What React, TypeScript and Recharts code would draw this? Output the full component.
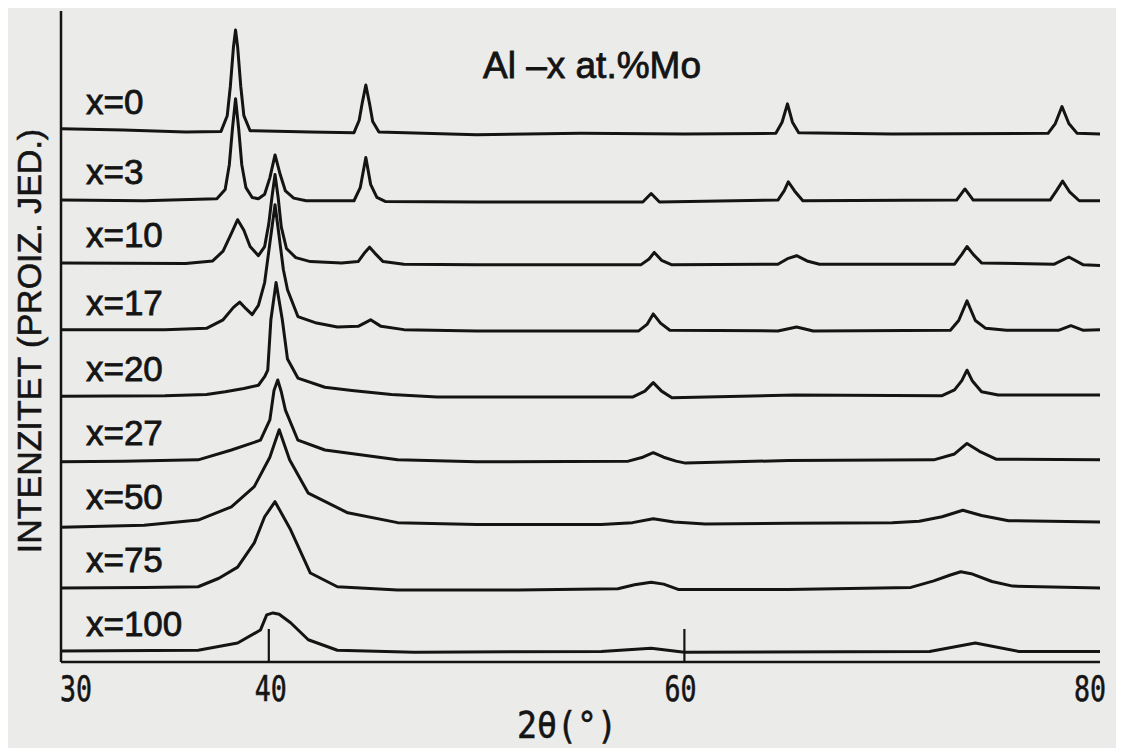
import React from 'react';
import {
  LineChart,
  Line,
  XAxis,
  YAxis,
  ReferenceDot,
} from 'recharts';

// Al - x at.% Mo, X-ray diffractograms, stacked
const COMPOSITIONS = [0, 3, 10, 17, 20, 27, 50, 75, 100];
const OFFSETS = [81.2, 70.5, 60.9, 50.6, 40.5, 30.7, 20.9, 11.2, 1.5];
const X_TICKS = [30, 40, 60, 80];

// [2theta, intensity above the trace baseline]
const S_X0: [number, number][] = [
  [30, 0.3], [33, 0.1], [36, -0.2], [37.7, -0.1], [38.0, 2.3], [38.15, 6.8], [38.3, 12.8],
  [38.4, 15.4], [38.5, 12.8], [38.65, 6.8], [38.8, 2.3], [39.1, 0], [42, -0.2], [44.1, -0.3],
  [44.35, 1.6], [44.5, 4.3], [44.67, 7.0], [44.85, 4.1], [45.0, 1.4], [45.3, -0.2], [50, -0.6],
  [55, -0.4], [60, -0.5], [64.4, -0.4], [64.7, 1.3], [64.96, 4.1], [65.2, 1.3], [65.5, -0.3],
  [70, -0.5], [77.5, -0.4], [77.85, 1.1], [78.17, 3.7], [78.5, 1.1], [78.9, -0.4], [80, -0.5],
];
const S_X3: [number, number][] = [
  [30, 0.1], [34, 0], [37.5, 0.3], [37.9, 1.7], [38.1, 5.5], [38.25, 11.0], [38.4, 15.6],
  [38.55, 11.0], [38.7, 5.5], [38.9, 2.0], [39.2, 0.5], [39.5, 0.3], [39.8, 1.0], [40.05, 3.5],
  [40.3, 7.0], [40.55, 4.0], [40.8, 1.5], [41.2, 0.4], [41.8, 0], [44.1, 0], [44.4, 2.0],
  [44.67, 6.6], [44.9, 2.5], [45.2, 0.5], [45.6, -0.1], [50, -0.2], [58.0, -0.2], [58.4, 1.1],
  [58.8, -0.2], [64.5, 0.1], [64.8, 1.5], [65.0, 2.9], [65.3, 1.5], [65.7, 0], [73.1, 0.1],
  [73.5, 1.8], [73.9, 0.1], [77.6, 0.1], [77.9, 1.5], [78.2, 3.0], [78.55, 1.3], [79.0, 0], [80, 0],
];
const S_X10: [number, number][] = [
  [30, 0.1], [36, 0], [37.3, 0.4], [37.8, 1.9], [38.2, 4.6], [38.5, 6.7], [38.8, 5.1], [39.1, 2.6],
  [39.5, 1.2], [39.8, 2.6], [40.0, 6.1], [40.15, 10.1], [40.3, 13.6], [40.45, 10.1], [40.6, 5.6],
  [40.85, 2.3], [41.3, 0.9], [42, 0.3], [43.5, 0.1], [44.3, 0.3], [44.6, 1.6], [44.85, 2.5],
  [45.1, 1.6], [45.5, 0.3], [46.5, -0.1], [50, -0.2], [57.9, -0.2], [58.3, 0.7], [58.55, 1.7],
  [58.9, 0.5], [59.4, -0.2], [64.5, -0.1], [65.0, 0.8], [65.4, 1.2], [65.9, 0.4], [66.5, -0.1],
  [73.0, -0.1], [73.35, 1.4], [73.6, 2.6], [73.9, 1.4], [74.3, 0.1], [77.8, -0.1], [78.5, 1.0],
  [79.2, -0.2], [80, -0.3],
];
const S_X17: [number, number][] = [
  [30, 0.2], [35, 0.2], [37.0, 0.4], [37.8, 1.7], [38.3, 3.6], [38.6, 4.4], [38.9, 3.4],
  [39.2, 2.5], [39.5, 3.9], [39.8, 7.4], [40.05, 13.4], [40.3, 19.3], [40.5, 14.4], [40.7, 9.4],
  [40.9, 6.3], [41.4, 2.2], [42.3, 1.2], [43.3, 0.6], [44.3, 0.7], [44.9, 1.7], [45.4, 0.7],
  [46.5, 0.2], [50, 0], [57.8, 0], [58.2, 1.0], [58.5, 2.6], [58.85, 1.2], [59.3, 0.1], [64.5, 0],
  [65.4, 0.6], [66.2, 0], [72.8, 0.1], [73.2, 1.6], [73.6, 4.6], [74.0, 1.6], [74.5, 0.4],
  [75.5, 0.1], [78.0, 0.1], [78.6, 0.8], [79.2, 0.1], [80, 0.2],
];
const S_X20: [number, number][] = [
  [30, 0.1], [35, 0.2], [37.0, 0.4], [37.9, 0.8], [38.8, 1.3], [39.5, 1.8], [39.8, 3.1],
  [39.95, 4.1], [40.1, 11.8], [40.35, 17.5], [40.65, 11.8], [40.9, 5.8], [41.4, 2.9], [42.7, 1.5],
  [44, 1.0], [45.9, 0.4], [48.1, 0], [55, 0], [57.5, 0], [58.1, 0.9], [58.5, 2.2], [58.9, 0.9],
  [59.4, -0.1], [65.3, 0.3], [72.4, 0.2], [73.0, 1.1], [73.35, 2.5], [73.6, 4.1], [73.85, 2.5],
  [74.3, 0.8], [75.1, 0.3], [80, 0.3],
];
const S_X27: [number, number][] = [
  [30, -0.1], [33, 0], [36.6, 0.2], [38.2, 1.7], [39.6, 3.2], [40.05, 6.3], [40.25, 10.8],
  [40.43, 12.4], [40.6, 10.6], [40.8, 7.8], [41.4, 3.2], [42.7, 1.7], [46.2, 0.2], [50, -0.1],
  [57.3, 0], [58.0, 0.6], [58.5, 1.3], [59.0, 0.6], [59.6, 0], [60.05, -0.3], [65, 0.1], [72, 0.2],
  [73.0, 1.1], [73.6, 2.7], [74.2, 1.5], [75.0, 0.3], [80, 0.2],
];
const S_X50: [number, number][] = [
  [30, -0.3], [34, 0], [36.6, 0.8], [38.2, 2.8], [39.3, 5.9], [40.05, 10.4], [40.5, 14.6],
  [41.0, 10.0], [41.9, 4.9], [43.8, 1.9], [46.2, 0.4], [50, 0.1], [56, 0.1], [57.5, 0.4],
  [58.5, 1.0], [59.5, 0.5], [61, 0.2], [65, 0.3], [70, 0.4], [71.3, 0.6], [72.4, 1.3],
  [73.4, 2.3], [74.3, 1.5], [75.6, 0.7], [80, 0.5],
];
const S_X75: [number, number][] = [
  [30, 0.1], [34, 0.2], [36.6, 0.3], [37.6, 1.6], [38.5, 3.3], [39.3, 7.0], [39.8, 11.0],
  [40.3, 13.3], [41.05, 9.0], [42.0, 2.4], [43.3, 0.3], [46.2, -0.2], [52, -0.2], [56.8, 0],
  [57.6, 0.6], [58.4, 1.0], [59.0, 0.7], [59.7, -0.1], [65, -0.1], [70.9, 0.2], [72.0, 1.2],
  [72.8, 2.1], [73.3, 2.6], [73.8, 2.3], [74.8, 1.1], [75.8, 0.4], [80, 0.1],
];
const S_X100: [number, number][] = [
  [30, 0.2], [36.6, 0.3], [38.5, 1.4], [39.6, 3.4], [39.9, 5.7], [40.2, 6.0], [40.5, 5.8],
  [41.05, 4.5], [41.9, 1.9], [43.3, 0.3], [47, 0], [56, 0.1], [58.4, 0.6], [60, 0], [71.8, 0.1],
  [74.0, 1.4], [76.1, 0.1], [80, 0.1],
];

const SERIES = [S_X0, S_X3, S_X10, S_X17, S_X20, S_X27, S_X50, S_X75, S_X100];

const traces = SERIES.map((pts, i) =>
  pts.map(([t, h]) => ({ t, v: +(OFFSETS[i] + h).toFixed(2) }))
);

const INK = '#141414';
const PAPER = '#ebebe9';
const SANS = '"Liberation Sans", Arial, sans-serif';
const MONO = '"DejaVu Sans Mono", monospace';
const AXIS_LINE = { stroke: INK, strokeWidth: 2.5 };

function XTick(props: any) {
  const { x, y, payload } = props;
  const v = payload.value;
  const shift = v === 30 ? 15 : v === 80 ? -10 : v === 60 ? -4 : 2;
  const inner = v === 40 || v === 60;
  return (
    <g>
      {inner && <line x1={x} x2={x} y1={y} y2={y - 33} stroke={INK} strokeWidth={2.2} />}
      <text
        x={x + shift}
        y={y + 39}
        textAnchor="middle"
        fontFamily={MONO}
        fontSize={36}
        textLength={32}
        lengthAdjust="spacingAndGlyphs"
        fill={INK}
        stroke={INK}
        strokeWidth={0.6}
      >
        {v}
      </text>
    </g>
  );
}

export default function App() {
  return (
    <div
      style={{
        position: 'relative',
        width: 1124,
        height: 748,
        marginLeft: -8,
        marginTop: -8,
        background: PAPER,
      }}
    >
      <LineChart width={1124} height={748} margin={{ top: 11, right: 24, bottom: 0, left: 0 }}>
        <XAxis
          dataKey="t"
          type="number"
          domain={[30, 80]}
          ticks={X_TICKS}
          allowDataOverflow
          height={86}
          tickSize={0}
          tickMargin={0}
          tick={<XTick />}
          stroke={INK}
          strokeWidth={2.5}
          axisLine={AXIS_LINE}
          tickLine={false}
        />
        <XAxis
          xAxisId="top"
          orientation="top"
          type="number"
          domain={[30, 80]}
          height={0}
          tick={false}
          tickLine={false}
          stroke={INK}
          strokeWidth={2.5}
          axisLine={AXIS_LINE}
        />
        <YAxis
          type="number"
          domain={[0, 99.5]}
          allowDataOverflow
          width={61}
          tick={false}
          tickLine={false}
          stroke={INK}
          strokeWidth={2.5}
          axisLine={AXIS_LINE}
        />
        <YAxis
          yAxisId="right"
          orientation="right"
          type="number"
          domain={[0, 99.5]}
          width={0}
          tick={false}
          tickLine={false}
          stroke={INK}
          strokeWidth={2.5}
          axisLine={AXIS_LINE}
        />
        {traces.map((d, i) => (
          <Line
            key={COMPOSITIONS[i]}
            data={d}
            dataKey="v"
            type="linear"
            stroke={INK}
            strokeWidth={3}
            strokeLinejoin="round"
            dot={false}
            activeDot={false}
            isAnimationActive={false}
          />
        ))}
        {COMPOSITIONS.map((c, i) => (
          <ReferenceDot
            key={'lbl' + c}
            x={30.96}
            y={OFFSETS[i] + 4.4}
            r={0}
            fill="none"
            stroke="none"
            label={{
              value: `x=${c}`,
              position: 'right',
              offset: 5,
              fontSize: 35,
              fontFamily: SANS,
              fill: INK,
              stroke: INK,
              strokeWidth: 0.8,
            }}
          />
        ))}
      </LineChart>
      <svg
        width={1124}
        height={748}
        style={{ position: 'absolute', left: 0, top: 0, pointerEvents: 'none' }}
      >
        <text x={483} y={78} fontFamily={SANS} fontSize={37} fill={INK} stroke={INK} strokeWidth={0.8}>
          Al –x at.%Mo
        </text>
        <text
          x={41}
          y={341}
          transform="rotate(-90, 41, 341)"
          textAnchor="middle"
          fontFamily={SANS}
          fontSize={34}
          fill={INK}
          stroke={INK}
          strokeWidth={0.6}
        >
          INTENZITET (PROIZ. JED.)
        </text>
        <text
          x={567}
          y={738}
          textAnchor="middle"
          fontFamily={MONO}
          fontSize={38}
          textLength={100}
          lengthAdjust="spacingAndGlyphs"
          fill={INK}
          stroke={INK}
          strokeWidth={0.6}
        >
          2θ(°)
        </text>
      </svg>
    </div>
  );
}
